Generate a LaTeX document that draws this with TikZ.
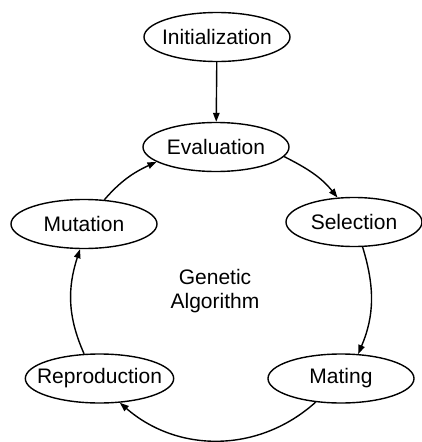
\documentclass[tikz,border=0pt]{standalone}
\usepackage{fontspec}
\setmainfont{Liberation Sans}
\usetikzlibrary{shapes.geometric}
\usetikzlibrary{arrows.meta}

\begin{document}
\begin{tikzpicture}[x=1pt,y=-1pt,
    font=\fontsize{21}{24}\selectfont,
    stage/.style={draw,ellipse,line width=1.4pt,inner xsep=-10pt,inner ysep=0pt,
      minimum width=146pt,minimum height=49pt},
    flow/.style={-{Triangle[length=9pt,width=6.5pt]},line width=1.4pt}]
  \useasboundingbox (0,0) rectangle (422,442);
  \node (ini) [stage] at (217,37) {Initialization};
  \node (eva) [stage] at (216,147) {Evaluation};
  \node (sel) [stage,minimum width=136pt] at (354,222) {Selection};
  \node (mat) [stage] at (341,378.5) {Mating};
  \node (rep) [stage] at (99.5,378.5) {Reproduction};
  \node (mut) [stage] at (84,224) {Mutation};
  \node (ga) [align=center] at (215,291) {Genetic\\Algorithm};

  % cycle, arcs round the centre of the ring
  \draw[flow] (ini) -- (eva);
  \draw[flow] (eva.-8) to[out=-27,in=129] (sel.124);
  \draw[flow] (sel.-71) to[out=-73,in=67] (mat.55);
  \draw[flow] (mat.223) to[out=222,in=-41] (rep.-50);
  \draw[flow] (rep.122) to[out=114,in=-108] (mut.261);
  \draw[flow] (mut.50) to[out=49,in=205] (eva.194);
\end{tikzpicture}
\end{document}
